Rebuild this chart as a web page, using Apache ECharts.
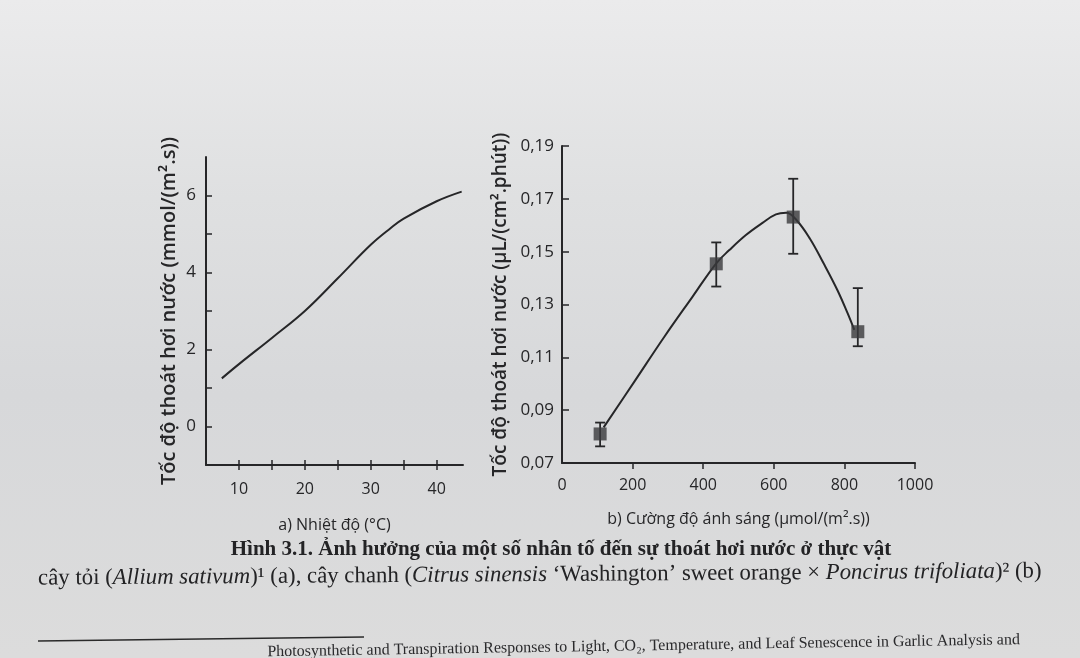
<!DOCTYPE html>
<html>
<head>
<meta charset="utf-8">
<script src="https://cdn.jsdelivr.net/npm/echarts@6/dist/echarts.min.js"></script>
<style>
html,body{margin:0;padding:0;}
body{width:1080px;height:658px;overflow:hidden;background:linear-gradient(180deg,#ebebec 0%,#dfe0e1 30%,#d7d8da 60%,#dcdcdc 100%);}
#c{width:1080px;height:658px;}
</style>
</head>
<body>
<div id="c"></div>
<script>
// ---- Chart a: temperature ----
const tempX = [7.4, 10, 15, 20, 25, 30, 33, 35, 40, 43.8];
const tempY = [1.25, 1.62, 2.3, 3.0, 3.85, 4.72, 5.15, 5.4, 5.85, 6.1];
const tempYLabels = [0, 2, 4, 6];
const tempYTicks = [0, 1, 2, 3, 4, 5, 6];
const tempXLabels = [10, 20, 30, 40];
const tempXTicks = [10, 15, 20, 25, 30, 35, 40];

// ---- Chart b: light intensity ----
const lightX = [108, 437, 655, 838];
const lightY = [0.081, 0.1454, 0.1631, 0.1197];
const lightErrLow = [0.0763, 0.1368, 0.1492, 0.1142];
const lightErrHigh = [0.0853, 0.1535, 0.1776, 0.1362];
const lightCurveX = [118, 205, 290, 370, 437, 474, 521, 568, 606, 635, 664, 702, 741, 780, 809, 828];
const lightCurveY = [0.0835, 0.1008, 0.1178, 0.1330, 0.1456, 0.1506, 0.1563, 0.1609, 0.1641, 0.1647, 0.1620, 0.1550, 0.1456, 0.1355, 0.1267, 0.1204];
const lightYLabels = [0.07, 0.09, 0.11, 0.13, 0.15, 0.17, 0.19];
const lightXLabels = [0, 200, 400, 600, 800, 1000];
const lightXTicks = [200, 400, 600, 800, 1000];

const ink = '#262628';
const sans = '"Open Sans", "Noto Sans", sans-serif';
const serif = '"Liberation Serif", "DejaVu Serif", serif';

const chart = echarts.init(document.getElementById('c'));

const axisLine = {show: true, onZero: false, lineStyle: {color: ink, width: 2}};
const labelStyle = {color: ink, fontFamily: sans, fontSize: 16};
const nameStyle = {color: ink, fontFamily: sans, fontSize: 18, fontWeight: 600};

const option = {
  animation: false,
  grid: [
    {left: 206, top: 157, width: 257, height: 308},
    {left: 562, top: 146, width: 353, height: 317}
  ],
  xAxis: [
    {
      type: 'value', gridIndex: 0, min: 5, max: 44,
      axisLine: axisLine, splitLine: {show: false},
      axisTick: {show: true, inside: false, length: 5, lineStyle: {color: ink, width: 1.5}, customValues: tempXTicks},
      axisLabel: Object.assign({margin: 16, customValues: tempXLabels}, labelStyle),
      name: 'a) Nhiệt độ (°C)', nameLocation: 'middle', nameGap: 52,
      nameTextStyle: Object.assign({}, labelStyle, {fontSize: 16})
    },
    {
      type: 'value', gridIndex: 0, min: 5, max: 44, position: 'bottom',
      axisLine: {show: false, onZero: false}, splitLine: {show: false}, axisLabel: {show: false},
      axisTick: {show: true, inside: true, length: 5, lineStyle: {color: ink, width: 1.5}, customValues: tempXTicks}
    },
    {
      type: 'value', gridIndex: 1, min: 0, max: 1000,
      axisLine: axisLine, splitLine: {show: false},
      axisTick: {show: true, inside: false, length: 6, lineStyle: {color: ink, width: 1.5}, customValues: lightXTicks},
      axisLabel: Object.assign({margin: 14, customValues: lightXLabels, formatter: v => String(v)}, labelStyle),
      name: 'b) Cường độ ánh sáng (µmol/(m².s))', nameLocation: 'middle', nameGap: 48,
      nameTextStyle: Object.assign({}, labelStyle, {fontSize: 16})
    }
  ],
  yAxis: [
    {
      type: 'value', gridIndex: 0, min: -1, max: 7,
      axisLine: axisLine, splitLine: {show: false},
      axisTick: {show: true, inside: true, length: 6, lineStyle: {color: ink, width: 1.5}, customValues: tempYTicks},
      axisLabel: Object.assign({margin: 10, customValues: tempYLabels}, labelStyle, {fontSize: 17}),
      name: 'Tốc độ thoát hơi nước (mmol/(m².s))', nameLocation: 'middle', nameGap: 27,
      nameTextStyle: Object.assign({}, nameStyle, {fontSize: 20})
    },
    {
      type: 'value', gridIndex: 1, min: 0.07, max: 0.19,
      axisLine: axisLine, splitLine: {show: false},
      axisTick: {show: true, inside: true, length: 7, lineStyle: {color: ink, width: 1.5}, customValues: lightYLabels},
      axisLabel: Object.assign({margin: 8, customValues: lightYLabels,
        formatter: v => v.toFixed(2).replace('.', ',')}, labelStyle, {fontSize: 17}),
      name: 'Tốc độ thoát hơi nước (µL/(cm².phút))', nameLocation: 'middle', nameGap: 52,
      nameTextStyle: Object.assign({}, nameStyle, {fontSize: 19})
    }
  ],
  series: [
    {
      type: 'line', xAxisIndex: 0, yAxisIndex: 0, smooth: 0.4, showSymbol: false,
      lineStyle: {color: ink, width: 2},
      data: tempX.map((x, i) => [x, tempY[i]])
    },
    {
      type: 'line', xAxisIndex: 2, yAxisIndex: 1, smooth: 0.4, showSymbol: false,
      lineStyle: {color: ink, width: 2},
      data: lightCurveX.map((x, i) => [x, lightCurveY[i]])
    },
    {
      type: 'custom', xAxisIndex: 2, yAxisIndex: 1,
      encode: {x: 0, y: [1, 2]},
      data: lightX.map((x, i) => [x, lightErrLow[i], lightErrHigh[i]]),
      renderItem: function (params, api) {
        const x = api.value(0);
        const lo = api.coord([x, api.value(1)]);
        const hi = api.coord([x, api.value(2)]);
        const w = 5;
        const st = {stroke: ink, lineWidth: 1.8};
        return {
          type: 'group',
          children: [
            {type: 'line', shape: {x1: lo[0], y1: lo[1], x2: hi[0], y2: hi[1]}, style: st},
            {type: 'line', shape: {x1: lo[0] - w, y1: lo[1], x2: lo[0] + w, y2: lo[1]}, style: st},
            {type: 'line', shape: {x1: hi[0] - w, y1: hi[1], x2: hi[0] + w, y2: hi[1]}, style: st}
          ]
        };
      },
      z: 3
    },
    {
      type: 'scatter', xAxisIndex: 2, yAxisIndex: 1,
      symbol: 'rect', symbolSize: 13,
      itemStyle: {color: '#3a3a3c'},
      data: lightX.map((x, i) => [x, lightY[i]]),
      z: 4
    }
  ],
  graphic: [
    {
      type: 'text', x: 561, y: 539,
      style: {
        text: 'Hình 3.1. Ảnh hưởng của một số nhân tố đến sự thoát hơi nước ở thực vật',
        fill: '#232325', font: 'bold 21px ' + serif, align: 'center'
      }
    },
    {
      type: 'text', x: 38, y: 567, rotation: 0.007,
      style: {
        text: '{n|cây tỏi (}{i|Allium sativum}{n|)¹ (a), cây chanh (}{i|Citrus sinensis}{n| ‘Washington’ sweet orange × }{i|Poncirus trifoliata}{n|)² (b)}',
        rich: {
          n: {fill: '#232325', fontFamily: serif, fontSize: 22.8},
          i: {fill: '#232325', fontFamily: serif, fontSize: 22.8, fontStyle: 'italic'}
        }
      }
    },
    {
      type: 'line', shape: {x1: 38, y1: 641, x2: 364, y2: 637},
      style: {stroke: '#2a2a2a', lineWidth: 1.6}
    },
    {
      type: 'text', x: 1020, y: 648, rotation: 0.016,
      style: {
        text: 'Photosynthetic and Transpiration Responses to Light, CO₂, Temperature, and Leaf Senescence in Garlic Analysis and',
        fill: '#2a2a2c', font: '16px ' + serif, align: 'right', verticalAlign: 'bottom'
      }
    }
  ]
};
chart.setOption(option);
</script>
</body>
</html>
